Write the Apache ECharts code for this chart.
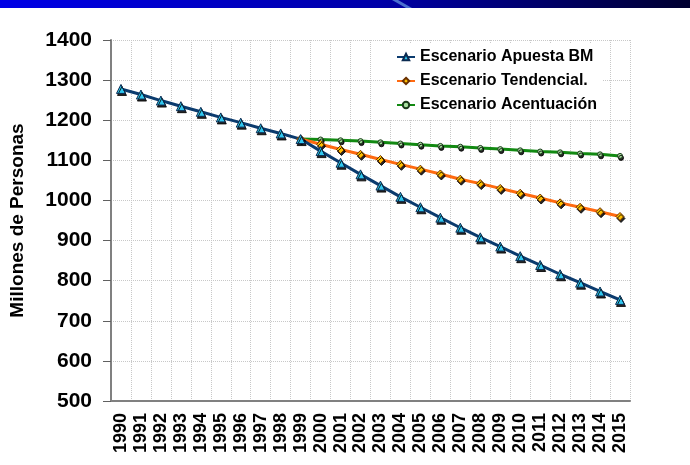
<!DOCTYPE html>
<html>
<head>
<meta charset="utf-8">
<script src="https://cdn.jsdelivr.net/npm/echarts@6/dist/echarts.min.js"></script>
<style>
html,body{margin:0;padding:0;background:#fff;}
#chart{width:690px;height:465px;}
</style>
</head>
<body>
<div id="chart"></div>
<script>
var years = ['1990','1991','1992','1993','1994','1995','1996','1997','1998','1999','2000','2001','2002','2003','2004','2005','2006','2007','2008','2009','2010','2011','2012','2013','2014','2015'];
var apuestaBM = [1278,1264,1249,1235,1221,1207,1194,1180,1167,1153,1123,1094,1065,1037,1009,983,957,932,908,885,861,839,816,795,773,752];
var tendencial = [null,null,null,null,null,null,null,null,null,1153,1140,1127,1115,1102,1090,1078,1066,1053,1042,1030,1018,1006,994,983,972,960];
var acentuacion = [null,null,null,null,null,null,null,null,null,1153,1152,1150,1148,1145,1142,1139,1136,1134,1131,1128,1125,1122,1120,1117,1115,1111];
var seriesNames = ['Escenario Apuesta BM','Escenario Tendencial.','Escenario Acentuación'];
var yTicks = {min:500, max:1400, interval:100};

var FONT = '"Liberation Sans", Arial, sans-serif';
var chart = echarts.init(document.getElementById('chart'), null, {renderer:'canvas'});
var shadow = {shadowColor:'rgba(0,0,0,0.85)', shadowBlur:0, shadowOffsetX:1, shadowOffsetY:2};

chart.setOption({
  animation:false,
  backgroundColor:'#ffffff',
  graphic:[
    {type:'rect', left:0, top:0, shape:{width:690,height:8},
     style:{fill:new echarts.graphic.LinearGradient(0,0,1,0,[
       {offset:0,color:'#0000e6'},{offset:0.55,color:'#0000a8'},{offset:1,color:'#000030'}])}},
    {type:'polygon', shape:{points:[[392,0],[398,0],[412,8],[406,8]]}, style:{fill:'#4a6fd0'}}
  ],
  grid:{left:109, right:60, top:40, bottom:64, containLabel:false},
  legend:{
    orient:'vertical', left:390, top:43,
    backgroundColor:'#ffffff', padding:[6,6,6,6],
    itemWidth:18, itemHeight:8, itemGap:8,
    textStyle:{fontFamily:FONT, fontWeight:'bold', fontSize:16, color:'#000'},
    data:seriesNames
  },
  xAxis:{
    type:'category', data:years, boundaryGap:true,
    axisLine:{lineStyle:{color:'#808080', width:2}},
    axisTick:{length:6, lineStyle:{color:'#000', width:1}},
    axisLabel:{rotate:90, interval:0, margin:12, fontFamily:FONT, fontWeight:'bold', fontSize:18, color:'#000'},
    splitLine:{show:true, interval:0, lineStyle:{color:'#c8c8c8', type:'dotted', width:1}}
  },
  yAxis:{
    type:'value', min:yTicks.min, max:yTicks.max, interval:yTicks.interval,
    name:'Millones de Personas', nameLocation:'middle', nameRotate:90, nameGap:84,
    nameTextStyle:{fontFamily:FONT, fontWeight:'bold', fontSize:19, color:'#000'},
    axisLine:{show:true, lineStyle:{color:'#808080', width:2}},
    axisTick:{show:true, length:8, lineStyle:{color:'#606060', width:1}},
    axisLabel:{margin:19, fontFamily:FONT, fontWeight:'bold', fontSize:21, color:'#000',
               formatter:function(v){return String(v);}},
    splitLine:{show:true, lineStyle:{color:'#c8c8c8', type:'dotted', width:1}}
  },
  series:[
    {name:seriesNames[2], type:'line', data:acentuacion, connectNulls:false,
     symbol:'circle', symbolSize:5, showAllSymbol:true,
     lineStyle:{color:'#128a12', width:3},
     itemStyle:Object.assign({color:'#a8e0a0', borderColor:'#1a3a1a', borderWidth:1}, shadow)},
    {name:seriesNames[1], type:'line', data:tendencial,
     symbol:'diamond', symbolSize:8, showAllSymbol:true,
     lineStyle:{color:'#ff6a10', width:3},
     itemStyle:Object.assign({color:'#ffc000', borderColor:'#6a3000', borderWidth:1}, shadow)},
    {name:seriesNames[0], type:'line', data:apuestaBM,
     symbol:'triangle', symbolSize:9, showAllSymbol:true,
     lineStyle:{color:'#0b3b6e', width:3},
     itemStyle:Object.assign({color:'#30c8f0', borderColor:'#0b2a50', borderWidth:1}, shadow)}
  ]
});
</script>
</body>
</html>
